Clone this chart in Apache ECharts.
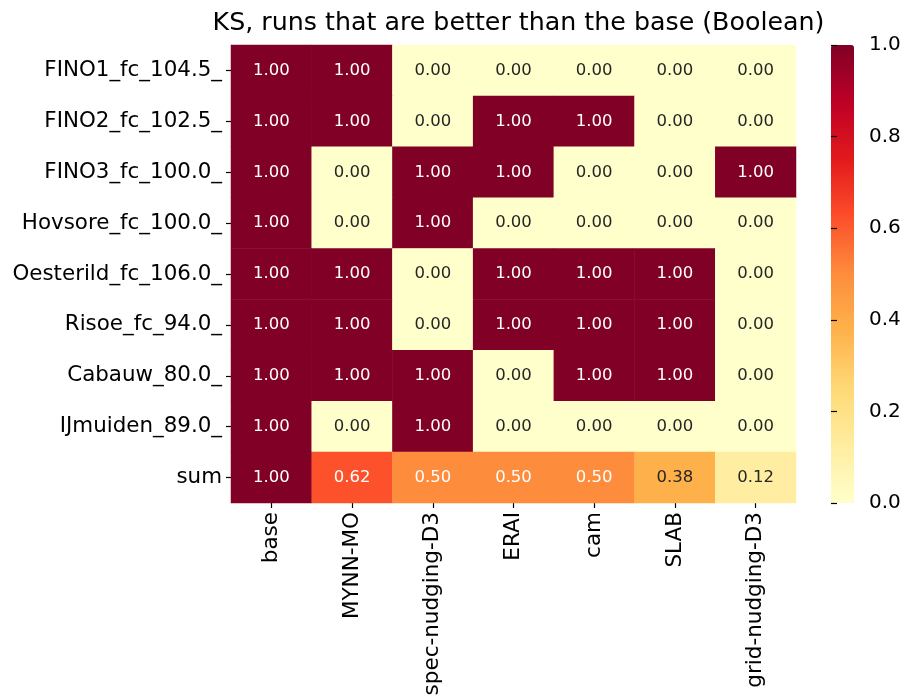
<!DOCTYPE html>
<html>
<head>
<meta charset="utf-8">
<script src="https://cdn.jsdelivr.net/npm/echarts@6/dist/echarts.min.js"></script>
<style>
  html, body { margin: 0; padding: 0; background: #fff; }
  #chart { width: 906px; height: 700px; }
</style>
</head>
<body>
<div id="chart"></div>
<script>
// Sites (rows) and model runs (columns)
const rowLabels = [
  'FINO1_fc_104.5_', 'FINO2_fc_102.5_', 'FINO3_fc_100.0_', 'Hovsore_fc_100.0_',
  'Oesterild_fc_106.0_', 'Risoe_fc_94.0_', 'Cabauw_80.0_', 'IJmuiden_89.0_', 'sum'
];
const colLabels = ['base', 'MYNN-MO', 'spec-nudging-D3', 'ERAI', 'cam', 'SLAB', 'grid-nudging-D3'];

// 1 = run beats the base at that site; the last row is the fraction over sites
const fino1     = [1, 1, 0, 0, 0, 0, 0];
const fino2     = [1, 1, 0, 1, 1, 0, 0];
const fino3     = [1, 0, 1, 1, 0, 0, 1];
const hovsore   = [1, 0, 1, 0, 0, 0, 0];
const oesterild = [1, 1, 0, 1, 1, 1, 0];
const risoe     = [1, 1, 0, 1, 1, 1, 0];
const cabauw    = [1, 1, 1, 0, 1, 1, 0];
const ijmuiden  = [1, 0, 1, 0, 0, 0, 0];
const sumRow    = [1.00, 0.62, 0.50, 0.50, 0.50, 0.38, 0.12];

// Colour bar scale
const colorbarMin = 0;
const colorbarMax = 1;
const colorbarStep = 0.2;

// YlOrRd colour ramp
const ylOrRd = ['#ffffcc', '#ffeda0', '#fed976', '#feb24c', '#fd8d3c',
                '#fc4e2a', '#e31a1c', '#bd0026', '#800026'];

const matrix = [fino1, fino2, fino3, hovsore, oesterild, risoe, cabauw, ijmuiden, sumRow];

const cells = [];
matrix.forEach((row, r) => {
  row.forEach((v, c) => {
    cells.push({
      value: [c, r, v],
      label: { color: v >= 0.5 ? '#ffffff' : '#262626' }
    });
  });
});

const FONT = 'DejaVu Sans';
const chart = echarts.init(document.getElementById('chart'), null, { renderer: 'canvas' });

chart.setOption({
  backgroundColor: '#ffffff',
  animation: false,
  textStyle: { fontFamily: FONT },
  title: {
    text: 'KS, runs that are better than the base (Boolean)',
    left: 513.5,
    textAlign: 'center',
    top: 6,
    textStyle: { fontFamily: FONT, fontSize: 25.3, fontWeight: 'normal', color: '#000' }
  },
  grid: [
    { left: 231, top: 45, width: 565, height: 458, containLabel: false },
    { left: 831, top: 45, width: 23, height: 458, containLabel: false, z: 10 }
  ],
  xAxis: [
    {
      type: 'category',
      gridIndex: 0,
      data: colLabels,
      position: 'bottom',
      axisLine: { show: false },
      axisTick: { show: true, alignWithLabel: true, length: 5, lineStyle: { color: '#000', width: 1.2 } },
      axisLabel: { rotate: 90, fontSize: 21.5, color: '#000', margin: 9, fontFamily: FONT },
      splitArea: { show: false },
      splitLine: { show: false }
    },
    { type: 'value', gridIndex: 1, show: false, min: 0, max: 1 }
  ],
  yAxis: [
    {
      type: 'category',
      gridIndex: 0,
      data: rowLabels,
      inverse: true,
      axisLine: { show: false },
      axisTick: { show: true, alignWithLabel: true, length: 5, lineStyle: { color: '#000', width: 1.2 } },
      axisLabel: { fontSize: 21.4, color: '#000', margin: 9, fontFamily: FONT },
      splitArea: { show: false },
      splitLine: { show: false }
    },
    {
      type: 'value',
      gridIndex: 1,
      position: 'right',
      z: 10,
      min: colorbarMin,
      max: colorbarMax,
      interval: colorbarStep,
      axisLine: { show: false },
      splitLine: { show: false },
      axisTick: { show: true, length: 6, inside: false, interval: 0, lineStyle: { color: '#000', width: 1.2 } },
      axisLabel: {
        fontSize: 20, color: '#000', margin: 15, fontFamily: FONT,
        formatter: v => v.toFixed(1)
      }
    }
  ],
  visualMap: {
    type: 'continuous',
    min: colorbarMin,
    max: colorbarMax,
    seriesIndex: 0,
    calculable: false,
    realtime: false,
    hoverLink: false,
    orient: 'vertical',
    left: 831,
    top: 45,
    padding: 0,
    z: 2,
    itemWidth: 23,
    itemHeight: 458,
    text: null,
    showLabel: false,
    inRange: { color: ylOrRd }
  },
  series: [{
    type: 'heatmap',
    xAxisIndex: 0,
    yAxisIndex: 0,
    data: cells,
    label: {
      show: true,
      fontSize: 16.5,
      fontFamily: FONT,
      formatter: p => p.value[2].toFixed(2)
    },
    itemStyle: { borderWidth: 0 },
    emphasis: { disabled: true }
  }, {
    type: 'scatter',
    xAxisIndex: 1,
    yAxisIndex: 1,
    data: [],
    silent: true
  }]
});
</script>
</body>
</html>
